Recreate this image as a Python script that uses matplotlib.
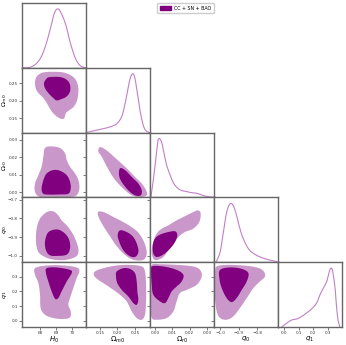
import matplotlib
matplotlib.use('Agg')
import matplotlib.pyplot as plt
import numpy as np
from matplotlib.patches import Patch

# parameter names and plot ranges
names = [r'$H_0$', r'$\Omega_{m0}$', r'$\Omega_{r0}$', r'$q_0$', r'$q_1$']
ranges = [(66.875, 70.875), (0.11, 0.293), (-0.003, 0.034), (-1.035, -0.687), (-0.043, 0.40)]
ticks = [[68, 69, 70], [0.15, 0.20, 0.25], [0.00, 0.01, 0.02, 0.03],
         [-1.0, -0.9, -0.8, -0.7], [0.0, 0.1, 0.2, 0.3]]
xtick_labels = [['68', '69', '70'], ['0.15', '0.20', '0.25'], ['0.00', '0.01', '0.02', '0.03'],
                ['\u22121.0', '\u22120.9', '\u22120.8'], ['0.0', '0.1', '0.2', '0.3']]
ytick_labels = [None, ['0.15', '0.20', '0.25'], ['0.00', '0.01', '0.02', '0.03'],
                ['\u22121.0', '\u22120.9', '\u22120.8', '\u22120.7'], ['0.0', '0.1', '0.2', '0.3']]

# 1D marginals (normalised to peak = 1)
h0_x = [66.9, 67.4, 67.8, 68.1, 68.4, 68.7, 68.9, 69.1, 69.3, 69.6, 69.9, 70.2, 70.5, 70.85]
h0_p = [0.0, 0.01, 0.08, 0.2, 0.42, 0.72, 0.93, 1.0, 0.94, 0.74, 0.42, 0.17, 0.04, 0.0]
om_x = [0.11, 0.125, 0.14, 0.155, 0.17, 0.185, 0.198, 0.212, 0.222, 0.231, 0.238, 0.2445,
        0.25, 0.257, 0.264, 0.272, 0.279, 0.287, 0.293]
om_p = [0.0, 0.02, 0.04, 0.06, 0.08, 0.11, 0.15, 0.27, 0.5, 0.78, 0.95, 1.0,
        0.92, 0.67, 0.39, 0.16, 0.05, 0.01, 0.0]
or_x = [-0.0025, -0.0011, 0.0005, 0.0015, 0.0024, 0.0038, 0.0051, 0.0066, 0.0086, 0.0105,
        0.0125, 0.015, 0.018, 0.021, 0.024, 0.027, 0.030, 0.034]
or_p = [0.0, 0.29, 0.69, 0.95, 1.0, 0.93, 0.75, 0.55, 0.38, 0.25,
        0.17, 0.12, 0.1, 0.08, 0.07, 0.04, 0.015, 0.0]
q0_x = [-1.024, -1.002, -0.984, -0.966, -0.948, -0.93, -0.912, -0.894, -0.876, -0.848,
        -0.821, -0.785, -0.748, -0.694]
q0_p = [0.0, 0.17, 0.51, 0.85, 0.99, 0.96, 0.79, 0.57, 0.4, 0.23, 0.15, 0.09, 0.05, 0.01]
q1_x = [-0.017, 0.018, 0.053, 0.087, 0.122, 0.156, 0.191, 0.225, 0.248, 0.271, 0.294,
        0.312, 0.324, 0.336, 0.352, 0.363, 0.374, 0.386]
q1_p = [0.0, 0.068, 0.12, 0.135, 0.18, 0.24, 0.31, 0.41, 0.55, 0.66, 0.77,
        0.94, 1.0, 0.94, 0.66, 0.32, 0.1, 0.0]

# 2D credible regions (outer = 95%, inner = 68%), as [x values, y values]
h0_om_95 = [[68.83, 69.46, 69.98, 70.29, 70.40, 70.33, 70.125, 69.875, 69.625, 69.52, 69.35,
             69.04, 68.73, 68.42, 68.21, 67.90, 67.73, 67.69, 67.83, 68.21],
            [0.2817, 0.2798, 0.2704, 0.2544, 0.231, 0.2029, 0.184, 0.1747, 0.1655, 0.1514, 0.1486,
             0.1559, 0.17, 0.1936, 0.2077, 0.2218, 0.2358, 0.2544, 0.2704, 0.2798]]
h0_om_68 = [[68.625, 69.25, 69.67, 69.875, 69.875, 69.67, 69.35, 69.04, 68.83, 68.52, 68.31, 68.25, 68.42],
            [0.2668, 0.2668, 0.2592, 0.2451, 0.2263, 0.2122, 0.2049, 0.2009, 0.2077, 0.2218, 0.2358,
             0.2499, 0.2629]]
h0_or_95 = [[68.31, 68.73, 69.25, 69.56, 69.67, 69.875, 70.19, 70.40, 70.46, 70.29, 69.875, 68.83,
             68.0, 67.69, 67.69, 67.90, 68.10, 68.21],
            [0.0252, 0.0261, 0.0252, 0.0223, 0.0184, 0.0145, 0.0107, 0.0068, 0.0020, -0.0018,
             -0.0028, -0.0029, -0.0028, 0.0001, 0.0049, 0.0097, 0.0145, 0.0203]]
h0_or_68 = [[68.83, 69.25, 69.67, 69.875, 69.92, 69.77, 69.25, 68.625, 68.21, 68.10, 68.21, 68.42],
            [0.0126, 0.0122, 0.0097, 0.0059, 0.0020, -0.0009, -0.0013, -0.0014, -0.0009, 0.0020,
             0.0068, 0.0107]]
om_or_95 = [[0.150, 0.1692, 0.1978, 0.2264, 0.250, 0.2693, 0.2816, 0.2836, 0.2644, 0.2407,
             0.2168, 0.1978, 0.1835, 0.1672, 0.1549, 0.1452],
            [0.0257, 0.0238, 0.0188, 0.0136, 0.0087, 0.0049, 0.0011, -0.0018, -0.0028, -0.0018,
             0.0020, 0.0059, 0.0097, 0.0155, 0.0203, 0.0232]]
om_or_68 = [[0.2072, 0.2215, 0.2407, 0.2596, 0.2693, 0.2664, 0.250, 0.2307, 0.2118, 0.2044],
            [0.0136, 0.0126, 0.0087, 0.0049, 0.0011, -0.0018, -0.0018, 0.0011, 0.0059, 0.0097]]
h0_q0_95 = [[68.42, 68.83, 69.14, 69.35, 69.67, 69.98, 70.19, 70.40, 70.33, 69.98, 69.46, 68.83,
             68.31, 67.90, 67.75, 67.79, 68.0],
            [-0.766, -0.762, -0.783, -0.810, -0.837, -0.873, -0.908, -0.962, -0.998, -1.015,
             -1.024, -1.021, -1.007, -0.980, -0.926, -0.855, -0.801]]
h0_q0_68 = [[68.73, 69.14, 69.56, 69.83, 69.875, 69.67, 69.14, 68.625, 68.375, 68.31, 68.46],
            [-0.864, -0.860, -0.881, -0.917, -0.962, -0.994, -1.001, -0.998, -0.971, -0.926, -0.881]]
om_q0_95 = [[0.148, 0.1643, 0.1881, 0.2121, 0.2358, 0.2596, 0.2759, 0.2836, 0.2787, 0.2644,
             0.2407, 0.2168, 0.1958, 0.1766, 0.1595, 0.148, 0.1435],
            [-0.762, -0.769, -0.792, -0.815, -0.841, -0.876, -0.926, -0.980, -1.015, -1.026,
             -1.019, -0.988, -0.944, -0.890, -0.841, -0.801, -0.774]]
om_q0_68 = [[0.2072, 0.2264, 0.2453, 0.2568, 0.2596, 0.250, 0.2338, 0.2168, 0.2052, 0.2006],
            [-0.864, -0.873, -0.900, -0.944, -0.983, -1.007, -1.001, -0.971, -0.926, -0.890]]
or_q0_95 = [[-0.0011, -0.002, -0.0011, 0.0009, 0.0038, 0.0076, 0.0115, 0.0163, 0.0220, 0.0249,
             0.0263, 0.0255, 0.0220, 0.0172, 0.0134, 0.0105, 0.0076, 0.0047, 0.0009],
            [-1.015, -0.980, -0.926, -0.881, -0.855, -0.837, -0.815, -0.792, -0.766, -0.757,
             -0.774, -0.819, -0.855, -0.873, -0.900, -0.935, -0.971, -1.007, -1.024]]
or_q0_68 = [[-0.0011, -0.0014, -0.0001, 0.0028, 0.0076, 0.0115, 0.0128, 0.0115, 0.0086, 0.0047, 0.0009],
            [-0.988, -0.944, -0.908, -0.887, -0.873, -0.869, -0.890, -0.926, -0.962, -0.994, -1.007]]
h0_q1_95 = [[67.69, 68.42, 69.46, 70.29, 70.46, 70.29, 70.08, 69.875, 69.77, 69.92, 69.875, 69.46,
             68.83, 68.31, 68.04, 68.0, 67.90, 67.69],
            [0.359, 0.3775, 0.3775, 0.364, 0.3366, 0.291, 0.2228, 0.1546, 0.109, 0.064, 0.0231,
             0.0115, 0.0183, 0.0408, 0.0865, 0.177, 0.257, 0.3134]]
h0_q1_68 = [[68.42, 69.04, 69.875, 69.98, 69.67, 69.35, 69.14, 68.94, 68.73, 68.52, 68.375],
            [0.359, 0.364, 0.3475, 0.325, 0.2684, 0.200, 0.1546, 0.150, 0.200, 0.2684, 0.325]]
om_q1_95 = [[0.1357, 0.1595, 0.1978, 0.2358, 0.2693, 0.2787, 0.2816, 0.2816, 0.2787, 0.2693,
             0.255, 0.2407, 0.2264, 0.2072, 0.1881, 0.1643, 0.1452, 0.1329],
            [0.3366, 0.359, 0.3775, 0.3816, 0.3707, 0.3366, 0.2453, 0.132, 0.0408, 0.0067,
             0.0183, 0.064, 0.132, 0.177, 0.211, 0.250, 0.2794, 0.309]]
om_q1_68 = [[0.1978, 0.2168, 0.2358, 0.250, 0.255, 0.2568, 0.2596, 0.255, 0.2453, 0.231,
             0.2121, 0.1995, 0.1958],
            [0.3366, 0.359, 0.3543, 0.325, 0.2684, 0.200, 0.143, 0.109, 0.1206, 0.166,
             0.211, 0.257, 0.3025]]
or_q1_95 = [[-0.002, 0.0028, 0.0124, 0.0220, 0.0259, 0.0269, 0.0240, 0.0182, 0.0143, 0.0124,
             0.0105, 0.0067, 0.0009, -0.002, -0.0026, -0.0026, -0.0026],
            [0.3816, 0.386, 0.3816, 0.3707, 0.3475, 0.3025, 0.2453, 0.211, 0.1887, 0.132,
             0.064, 0.0183, 0.0067, 0.0183, 0.0865, 0.200, 0.3134]]
or_q1_68 = [[-0.002, 0.0047, 0.0124, 0.0163, 0.0153, 0.0124, 0.0095, 0.0076, 0.0057, 0.0028,
             -0.0011, -0.002, -0.0024],
            [0.3707, 0.3707, 0.3475, 0.3134, 0.2684, 0.234, 0.200, 0.1546, 0.1206, 0.132,
             0.177, 0.2453, 0.325]]
q0_q1_95 = [[-1.0203, -0.966, -0.876, -0.803, -0.767, -0.758, -0.785, -0.821, -0.857, -0.894,
             -0.93, -0.966, -1.002, -1.0203, -1.0296, -1.033, -1.0296],
            [0.3707, 0.3816, 0.3775, 0.364, 0.341, 0.3025, 0.2684, 0.2228, 0.1546, 0.0865,
             0.0299, 0.0067, 0.0183, 0.064, 0.1546, 0.2684, 0.3366]]
q0_q1_68 = [[-1.002, -0.948, -0.884, -0.848, -0.857, -0.884, -0.912, -0.939, -0.966, -0.993, -1.006],
            [0.3475, 0.364, 0.3543, 0.325, 0.2684, 0.211, 0.1546, 0.1274, 0.1546, 0.2228, 0.291]]

marginals = [(h0_x, h0_p), (om_x, om_p), (or_x, or_p), (q0_x, q0_p), (q1_x, q1_p)]
contours = {
    (1, 0): (h0_om_95, h0_om_68),
    (2, 0): (h0_or_95, h0_or_68), (2, 1): (om_or_95, om_or_68),
    (3, 0): (h0_q0_95, h0_q0_68), (3, 1): (om_q0_95, om_q0_68), (3, 2): (or_q0_95, or_q0_68),
    (4, 0): (h0_q1_95, h0_q1_68), (4, 1): (om_q1_95, om_q1_68), (4, 2): (or_q1_95, or_q1_68),
    (4, 3): (q0_q1_95, q0_q1_68),
}

dark = '#800080'
light = '#c997c9'
line_c = '#c27fc8'
spine_c = '#666666'


def smooth(x, y, closed, n=8):
    # Catmull-Rom spline through the read-off points, for rendering only
    p = np.column_stack([x, y]).astype(float)
    if closed:
        pts = np.vstack([p[-1], p, p[0], p[1]])
    else:
        pts = np.vstack([p[0], p, p[-1]])
    t = np.linspace(0, 1, n, endpoint=False)[:, None]
    out = []
    for i in range(1, len(pts) - 2):
        p0, p1, p2, p3 = pts[i - 1:i + 3]
        out.append(0.5 * (2 * p1 + (-p0 + p2) * t + (2 * p0 - 5 * p1 + 4 * p2 - p3) * t ** 2
                          + (-p0 + 3 * p1 - 3 * p2 + p3) * t ** 3))
    out.append(pts[-2][None])
    s = np.vstack(out)
    return s[:, 0], s[:, 1]


fig, axes = plt.subplots(5, 5, figsize=(3.46, 3.45), dpi=100)
fig.subplots_adjust(left=22 / 346, right=342 / 346, bottom=1 - 327 / 345, top=1 - 3 / 345,
                    wspace=0, hspace=0)

for i in range(5):
    for j in range(5):
        ax = axes[i, j]
        if j > i:
            ax.set_visible(False)
            continue
        for s in ax.spines.values():
            s.set_color(spine_c)
            s.set_linewidth(1.0)
        ax.tick_params(labelsize=3.0, length=2.2, width=0.6, color=spine_c, labelcolor='#333333')
        ax.tick_params(axis='x', pad=0.8)
        ax.tick_params(axis='y', pad=0.8)
        ax.set_xlim(ranges[j])
        ax.set_xticks(ticks[j][:len(xtick_labels[j])])
        if i == 4:
            ax.set_xticklabels(xtick_labels[j])
            ax.set_xlabel(names[j], fontsize=5)
            ax.xaxis.set_label_coords(0.5, -0.125)
        else:
            ax.set_xticklabels([])
        if i == j:
            x, p = marginals[i]
            sx, sp = smooth(x, p, False)
            ax.plot(sx, np.clip(sp, 0, None), color=line_c, lw=0.8)
            ax.set_ylim(0, 1.1)
            ax.set_yticks([])
            continue
        ax.set_ylim(ranges[i])
        ax.set_yticks(ticks[i])
        if j == 0:
            ax.set_yticklabels(ytick_labels[i])
            ax.set_ylabel(names[i], fontsize=4.6)
            ax.yaxis.set_label_coords(-0.2, 0.5)
        else:
            ax.set_yticklabels([])
        outer, inner = contours[(i, j)]
        ox, oy = smooth(outer[0], outer[1], True)
        ix, iy = smooth(inner[0], inner[1], True)
        ax.fill(ox, oy, color=light, lw=0)
        ax.fill(ix, iy, color=dark, lw=0)

fig.legend(handles=[Patch(color=dark, label='CC + SN + BAO')], loc='upper left',
           bbox_to_anchor=(155 / 346, 1 - 1 / 345), fontsize=3.4, handlelength=2.4,
           handleheight=0.9, handletextpad=0.6, frameon=True, framealpha=1,
           edgecolor='#cccccc', borderpad=0.5)

fig.savefig('out.png', dpi=100)
